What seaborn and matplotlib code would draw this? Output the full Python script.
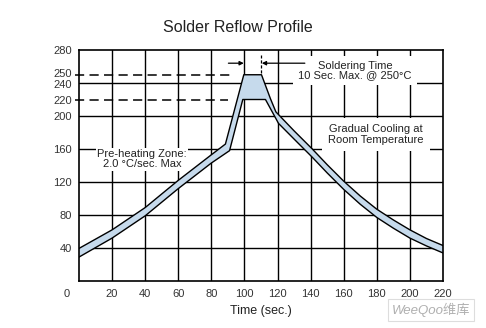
import matplotlib
matplotlib.use("Agg")
import matplotlib.pyplot as plt
import seaborn as sns
import pandas as pd
from matplotlib.transforms import ScaledTranslation

# Hot-side (outer) edge of the reflow band: time [s], temperature [°C]
outer_time = [0, 20, 40, 60, 80, 88.5, 99.6, 110.3, 115.7, 119, 130, 141, 150,
              160, 170, 180, 190, 200, 210, 220]
outer_temp = [39.5, 62, 89, 122, 153, 166, 250, 250, 221, 205, 182, 160, 141,
              121, 103, 87, 74, 62, 51.5, 43]

# Cool-side (inner) edge of the reflow band
inner_time = [0, 20, 40, 60, 80, 91, 99, 112.7, 120.6, 132, 141, 150,
              160, 170, 180, 190, 200, 210, 220]
inner_temp = [29, 52, 79, 112, 143, 158, 220, 220, 191, 168, 150, 131,
              111, 93, 77, 64, 52, 42.5, 34]

# Reference levels (°C) and where their dashed guides stop (s)
ref_levels = [250, 220]
ref_stop = [93.3, 90.0]

# Soldering window at 250 °C
solder_start = 99.6
solder_end = 109.7

x_ticks = [0, 20, 40, 60, 80, 100, 120, 140, 160, 180, 200, 220]
y_ticks = [40, 80, 120, 160, 200, 220, 240, 250, 280]
x_grid = [20, 40, 60, 80, 100, 120, 140, 160, 180, 200]
y_grid = [40, 80, 120, 160, 200, 240]

sns.set_theme(style="white")
plt.rcParams["font.family"] = ["Liberation Sans", "Noto Sans CJK SC", "DejaVu Sans"]

fig = plt.figure(figsize=(4.86, 3.28), dpi=100)
fig.patch.set_facecolor("white")
ax = fig.add_axes([79 / 486, 1 - 281 / 328, 364 / 486, 231 / 328])
ax.set_facecolor("white")
ax.set_xlim(0, 220)
ax.set_ylim(0, 280)

# Grid
for gx in x_grid:
    ax.axvline(gx, color="black", lw=1.0, zorder=1)
for gy in y_grid:
    ax.axhline(gy, color="black", lw=1.0, zorder=1)

# Dashed guides at 250 °C and 220 °C
for lvl, stop in zip(ref_levels, ref_stop):
    ax.plot([-2.6, stop], [lvl, lvl], color="black", lw=1.1,
            dashes=(6, 3.5), zorder=3, clip_on=False)

# Reflow band
outer = pd.DataFrame({"time": outer_time, "temp": outer_temp})
inner = pd.DataFrame({"time": inner_time, "temp": inner_temp})
band_x = list(outer["time"]) + list(inner["time"][::-1])
band_y = list(outer["temp"]) + list(inner["temp"][::-1])
ax.fill(band_x, band_y, facecolor="#c6daec", edgecolor="none", zorder=4)
sns.lineplot(data=outer, x="time", y="temp", sort=False, estimator=None,
             color="black", lw=1.0, ax=ax, zorder=5)
sns.lineplot(data=inner, x="time", y="temp", sort=False, estimator=None,
             color="black", lw=1.0, ax=ax, zorder=5)

# Soldering window arrows
arrow_y = 264
ax.annotate("", xy=(solder_start, arrow_y), xytext=(90.3, arrow_y),
            arrowprops=dict(arrowstyle="-|>", color="black", lw=0.9,
                            mutation_scale=6, shrinkA=0, shrinkB=0), zorder=6)
ax.annotate("", xy=(solder_end + 0.8, arrow_y), xytext=(136.5, arrow_y),
            arrowprops=dict(arrowstyle="-|>", color="black", lw=0.9,
                            mutation_scale=6, shrinkA=0, shrinkB=0), zorder=6)
ax.plot([solder_end, solder_end], [252, 274], color="black", lw=0.9,
        dashes=(2.5, 1.5), zorder=6)

# Annotations
txt_kw = dict(ha="center", va="center", fontsize=8, color="#222222")
ax.text(166.7, 255, "Soldering Time\n10 Sec. Max. @ 250°C", linespacing=0.85,
        bbox=dict(boxstyle="square,pad=0.45", fc="white", ec="none"),
        zorder=3, **txt_kw)
ax.text(179.4, 177.6, "Gradual Cooling at\nRoom Temperature", linespacing=1.2,
        bbox=dict(boxstyle="square,pad=0.55", fc="white", ec="none"),
        zorder=3, **txt_kw)
ax.text(38.2, 147.3, "Pre-heating Zone:\n2.0 °C/sec. Max", linespacing=1.0,
        bbox=dict(boxstyle="square,pad=0.12", fc="white", ec="none"),
        zorder=3, **txt_kw)

# Axes styling
for side in ["left", "right", "top", "bottom"]:
    ax.spines[side].set_color("black")
    ax.spines[side].set_linewidth(1.2)
    ax.spines[side].set_zorder(7)
ax.set_xticks(x_ticks)
ax.set_xticklabels([str(v) for v in x_ticks])
ax.set_yticks(y_ticks)
ax.set_yticklabels([str(v) for v in y_ticks])
ax.tick_params(axis="both", length=0, labelsize=8, colors="#333333")
ax.tick_params(axis="x", pad=6)
ax.tick_params(axis="y", pad=5)
first = ax.get_xticklabels()[0]
first.set_transform(first.get_transform()
                    + ScaledTranslation(-12 / 100, 0, fig.dpi_scale_trans))
# the 250 / 240 labels sit very close together; spread them a little
for lab, val in zip(ax.get_yticklabels(), y_ticks):
    if val == 250:
        lab.set_transform(lab.get_transform()
                          + ScaledTranslation(0, 1.5 / 100, fig.dpi_scale_trans))
    elif val == 240:
        lab.set_transform(lab.get_transform()
                          + ScaledTranslation(0, -1.5 / 100, fig.dpi_scale_trans))
ax.set_xlabel("Time (sec.)", fontsize=9, color="#222222", labelpad=4)
ax.set_ylabel("")
ax.grid(False)

fig.text(238 / 486, 1 - 27 / 328, "Solder Reflow Profile", ha="center",
         va="center", fontsize=11.5, color="#222222")

# Site mark
fig.text(431 / 486, 1 - 310 / 328, "WeeQoo维库", ha="center", va="center",
         fontsize=9.5, color="#b0b0b0", style="italic",
         bbox=dict(boxstyle="square,pad=0.3", fc="white", ec="#dddddd", lw=0.8))

fig.savefig("out.png", dpi=100)
